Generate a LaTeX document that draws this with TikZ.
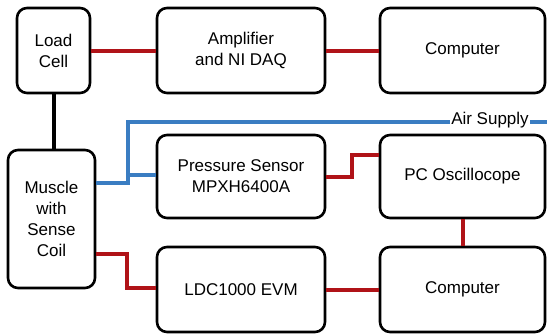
\documentclass[tikz,border=0pt]{standalone}
\usepackage{fontspec}
\setmainfont{Liberation Sans}
\definecolor{wred}{HTML}{B01318}
\definecolor{wblue}{HTML}{3A7DC2}
\begin{document}
\begin{tikzpicture}[x=1pt,y=-1pt,
  box/.style={draw=black,line width=2.6pt,rounded corners=10pt,align=center,
    font=\fontsize{17}{21}\selectfont,inner sep=0pt},
  redwire/.style={draw=wred,line width=4pt},
  bluewire/.style={draw=wblue,line width=4pt},
  blackwire/.style={draw=black,line width=4pt}]
\useasboundingbox (0,0) rectangle (547,335);
\node[box,minimum width=73pt,minimum height=85pt] (load) at (53.5,50.5) {Load\\Cell};
\node[box,minimum width=168pt,minimum height=85pt] (amp) at (241,50.5) {Amplifier\\and NI DAQ};
\node[box,minimum width=165pt,minimum height=85pt] (comp1) at (462.5,50.5) {Computer};
\node[box,minimum width=87pt,minimum height=138pt] (muscle) at (51.5,219) {Muscle\\with\\Sense\\Coil};
\node[box,minimum width=168pt,minimum height=83pt] (press) at (241,176.5) {Pressure Sensor\\MPXH6400A};
\node[box,minimum width=165pt,minimum height=83pt] (pc) at (462.5,176.5) {PC Oscillocope};
\node[box,minimum width=168pt,minimum height=85pt] (ldc) at (241,289.5) {LDC1000 EVM};
\node[box,minimum width=165pt,minimum height=85pt] (comp2) at (462.5,289.5) {Computer};
\coordinate (split) at (128,122);
\coordinate (airend) at (547,122);
\draw[redwire] (load) -- (amp);
\draw[redwire] (amp) -- (comp1);
\draw[blackwire] (load.south) -- (load.south |- muscle.north);
\draw[bluewire] (muscle.east |- 0,183) -- (split |- 0,183) -- (split) -- (airend);
\draw[bluewire] (split |- 0,175) -- (press.west |- 0,175);
\draw[redwire] (press.east |- 0,177) -- (352,177) -- (352,155) -- (pc.west |- 0,155);
\draw[redwire] (muscle.east |- 0,254) -- (127,254) -- (127,288) -- (ldc.west |- 0,288);
\draw[redwire] (ldc) -- (comp2);
\draw[redwire] (pc) -- (comp2);
\node[fill=white,inner sep=1pt,font=\fontsize{17}{21}\selectfont] (air) at (490,120) {Air Supply};
\end{tikzpicture}
\end{document}
